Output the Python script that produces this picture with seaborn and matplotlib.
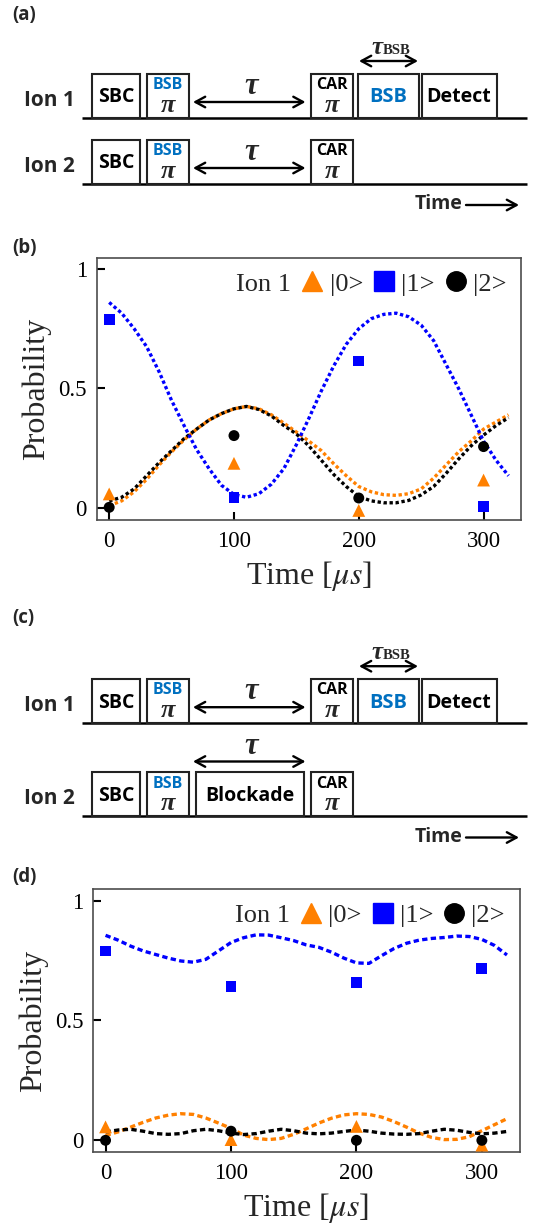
import matplotlib
matplotlib.use("Agg")
import matplotlib.pyplot as plt
import seaborn as sns
from matplotlib.patches import Rectangle
from matplotlib.lines import Line2D

# ---------------- data ----------------
meas_time = [0, 100, 200, 300]
# panel (b) measured populations of ion 1
b_p0 = [0.059, 0.187, -0.01, 0.117]
b_p1 = [0.79, 0.045, 0.615, 0.006]
b_p2 = [0.003, 0.303, 0.042, 0.257]
# panel (d) measured populations of ion 1 (blockade)
d_p0 = [0.056, 0.003, 0.058, -0.02]
d_p1 = [0.79, 0.64, 0.657, 0.717]
d_p2 = [0.0, 0.038, 0.0, 0.0]

fit_time = [0, 10, 20, 30, 40, 50, 60, 70, 80, 90, 100, 110, 120, 130, 140, 150, 160,
            170, 180, 190, 200, 210, 220, 230, 240, 250, 260, 270, 280, 290, 300, 310, 320]
b_fit0 = [0.01, 0.03, 0.068, 0.12, 0.18, 0.235, 0.285, 0.33, 0.368, 0.395, 0.415, 0.425,
          0.415, 0.39, 0.355, 0.318, 0.28, 0.24, 0.185, 0.135, 0.09, 0.068, 0.056, 0.053,
          0.06, 0.08, 0.125, 0.18, 0.235, 0.28, 0.33, 0.36, 0.39]
b_fit1 = [0.86, 0.815, 0.75, 0.675, 0.57, 0.45, 0.345, 0.245, 0.165, 0.095, 0.057, 0.045,
          0.06, 0.10, 0.165, 0.265, 0.375, 0.49, 0.595, 0.685, 0.75, 0.792, 0.81, 0.815,
          0.80, 0.765, 0.70, 0.60, 0.50, 0.39, 0.28, 0.20, 0.135]
b_fit2 = [0.03, 0.045, 0.08, 0.135, 0.19, 0.24, 0.29, 0.33, 0.368, 0.395, 0.415, 0.425,
          0.412, 0.385, 0.345, 0.31, 0.26, 0.20, 0.14, 0.09, 0.048, 0.03, 0.022, 0.022,
          0.032, 0.055, 0.09, 0.145, 0.205, 0.26, 0.305, 0.345, 0.378]
d_fit0 = [0.02, 0.035, 0.055, 0.075, 0.093, 0.105, 0.111, 0.108, 0.093, 0.072, 0.05, 0.022,
          0.008, 0.003, 0.008, 0.025, 0.048, 0.072, 0.092, 0.106, 0.111, 0.108, 0.097, 0.078,
          0.055, 0.03, 0.012, 0.003, 0.004, 0.015, 0.04, 0.065, 0.09]
d_fit1 = [0.855, 0.835, 0.81, 0.79, 0.775, 0.76, 0.748, 0.743, 0.755, 0.79, 0.825, 0.845,
          0.857, 0.856, 0.845, 0.833, 0.815, 0.805, 0.785, 0.76, 0.74, 0.738, 0.77, 0.80,
          0.822, 0.835, 0.842, 0.846, 0.852, 0.85, 0.838, 0.813, 0.773]
d_fit2 = [0.035, 0.043, 0.046, 0.038, 0.028, 0.025, 0.028, 0.04, 0.046, 0.04, 0.03, 0.024,
          0.028, 0.038, 0.046, 0.04, 0.03, 0.027, 0.03, 0.037, 0.043, 0.038, 0.03, 0.026,
          0.025, 0.028, 0.038, 0.046, 0.042, 0.033, 0.027, 0.03, 0.037]

state_labels = ["|0>", "|1>", "|2>"]
x_ticks = [0, 100, 200, 300]
y_ticks = [0, 0.5, 1]
y_ticklabels = ["0", "0.5", "1"]

ORANGE = "#FF8000"
BLUE = "#0000FF"
SEQ_BLUE = "#0070C0"

# ---------------- style ----------------
sns.set_style("white")
plt.rcParams["font.family"] = ["Liberation Serif", "DejaVu Serif"]
plt.rcParams["mathtext.fontset"] = "stix"

fig = plt.figure(figsize=(5.35, 12.28), dpi=100)
bg = fig.add_axes([0, 0, 1, 1])
bg.set_xlim(0, 535)
bg.set_ylim(1228, 0)
bg.axis("off")

SANS = dict(family="Open Sans", weight="bold")
GREEK = dict(family="Liberation Serif", weight="bold", style="italic")


def panel_label(x, y, s):
    bg.text(x, y, s, ha="left", va="center", fontsize=13.5, **SANS)


def darrow(x0, x1, y, style="<->"):
    bg.annotate("", xy=(x1, y), xytext=(x0, y),
                arrowprops=dict(arrowstyle=style + ",head_length=0.7,head_width=0.38",
                                lw=1.7, color="black", shrinkA=0, shrinkB=0))


def box(x0, x1, yline, h=44):
    bg.add_patch(Rectangle((x0, yline - h), x1 - x0, h, fill=False,
                           ec="#222222", lw=1.5, zorder=2))


def row(yline, label, blocks):
    bg.plot([81.5, 527], [yline, yline], color="black", lw=1.8, solid_capstyle="butt")
    bg.text(49.5, yline - 17, label, ha="center", va="center", fontsize=15, **SANS)
    for kind, x0, x1 in blocks:
        box(x0, x1, yline)
        xc = (x0 + x1) / 2
        if kind == "SBC" or kind == "Detect" or kind == "Blockade":
            bg.text(xc, yline - 20, kind, ha="center", va="center", fontsize=14,
                    color="black", **SANS)
        elif kind == "BSB":
            bg.text(xc, yline - 20, "BSB", ha="center", va="center", fontsize=14.5,
                    color=SEQ_BLUE, **SANS)
        elif kind in ("BSBpi", "CARpi"):
            top = "BSB" if kind == "BSBpi" else "CAR"
            col = SEQ_BLUE if kind == "BSBpi" else "black"
            bg.text(xc, yline - 32.5, top, ha="center", va="center", fontsize=11.5,
                    color=col, **SANS)
            bg.text(xc, yline - 12.5, "π", ha="center", va="center", fontsize=19, **GREEK)


def tau(x, y):
    bg.text(x, y, "τ", ha="center", va="center", fontsize=22, **GREEK)


def tau_bsb(yline):
    darrow(359, 418, yline - 56.5)
    bg.text(383, yline - 70, "τ", ha="right", va="center", fontsize=18, **GREEK)
    bg.text(383, yline - 67, "BSB", ha="left", va="center", fontsize=10.5,
            family="Liberation Serif", weight="bold")


def time_arrow(y):
    bg.text(414.5, y, "Time", ha="left", va="center", fontsize=14, **SANS)
    darrow(466, 519, y + 1, style="->")


ion1_blocks = [("SBC", 91.7, 140.3), ("BSBpi", 146.8, 189.4), ("CARpi", 310.6, 353.2),
               ("BSB", 357.7, 419.1), ("Detect", 421.5, 496.6)]
ion2_blocks_a = [("SBC", 91.7, 140.3), ("BSBpi", 146.8, 189.4), ("CARpi", 310.6, 353.2)]
ion2_blocks_c = [("SBC", 91.7, 140.3), ("BSBpi", 146.8, 189.4), ("Blockade", 196, 304),
                 ("CARpi", 310.6, 353.2)]

# ---- (a) ----
panel_label(12, 15, "(a)")
L1, L2 = 117.5, 183.5
row(L1, "Ion 1", ion1_blocks)
row(L2, "Ion 2", ion2_blocks_a)
for yl in (L1, L2):
    darrow(193, 305.5, yl - 15.5)
    tau(251, yl - 31)
tau_bsb(L1)
time_arrow(L2 + 20.5)

# ---- (c) ----
panel_label(12, 618.5, "(c)")
C1, C2 = 722.7, 816
row(C1, "Ion 1", ion1_blocks)
row(C2, "Ion 2", ion2_blocks_c)
darrow(193, 305.5, C1 - 15.5)
tau(251, C1 - 31)
darrow(193, 305.5, C2 - 54.5)
tau(251, C2 - 70)
tau_bsb(C1)
time_arrow(C2 + 20.5)

# ---------------- plots ----------------
panel_label(12, 248, "(b)")
panel_label(12, 877, "(d)")


def plot_panel(rect, fits, pts, dash):
    ax = fig.add_axes(rect)
    order = [0, 2, 1]
    for i in order:
        sns.lineplot(x=fit_time, y=fits[i], ax=ax, color=[ORANGE, BLUE, "black"][i],
                     lw=2.4, linestyle=(0, dash), zorder=2)
    sns.scatterplot(x=meas_time, y=pts[0], marker="^", s=85, color=ORANGE,
                    edgecolor="none", ax=ax, zorder=3, legend=False)
    sns.scatterplot(x=meas_time, y=pts[1], marker="s", s=60, color=BLUE,
                    edgecolor="none", ax=ax, zorder=3, legend=False)
    sns.scatterplot(x=meas_time, y=pts[2], marker="o", s=62, color="black",
                    edgecolor="none", ax=ax, zorder=4, legend=False)
    ax.set_xlim(-10, 330)
    ax.set_ylim(-0.05, 1.047)
    ax.set_xticks(x_ticks)
    ax.set_xticklabels([str(v) for v in x_ticks])
    ax.set_yticks(y_ticks)
    ax.set_yticklabels(y_ticklabels)
    ax.tick_params(direction="in", length=6, width=1.5, labelsize=16.5, pad=7,
                   colors="black", bottom=True, left=True, top=False, right=False)
    ax.tick_params(axis="x", pad=8)
    for sp in ax.spines.values():
        sp.set_color("#4d4d4d")
        sp.set_linewidth(1.2)
        sp.set_visible(True)
    ax.set_xlabel(r"Time [$\mu s$]", fontsize=23, labelpad=5)
    ax.set_ylabel("Probability", fontsize=23, labelpad=5)
    handles = [Line2D([], [], linestyle="none"),
               Line2D([], [], marker="^", color=ORANGE, linestyle="none", markersize=14.5),
               Line2D([], [], marker="s", color=BLUE, linestyle="none", markersize=14),
               Line2D([], [], marker="o", color="black", linestyle="none", markersize=14)]
    ax.legend(handles, ["Ion 1"] + state_labels, loc="upper right", ncol=4,
              frameon=False, fontsize=19, handlelength=0.9, handletextpad=0.2,
              columnspacing=0.35, borderaxespad=0.25, borderpad=0.3)
    return ax


plot_panel([96.7 / 535, 1 - 520 / 1228, (521 - 96.7) / 535, (520 - 257.7) / 1228],
           [b_fit0, b_fit1, b_fit2], [b_p0, b_p1, b_p2], (1.0, 0.8))
plot_panel([93 / 535, 1 - 1152.3 / 1228, (519.5 - 93) / 535, (1152.3 - 889.3) / 1228],
           [d_fit0, d_fit1, d_fit2], [d_p0, d_p1, d_p2], (1.6, 1.0))

fig.savefig("out.png", dpi=100)
